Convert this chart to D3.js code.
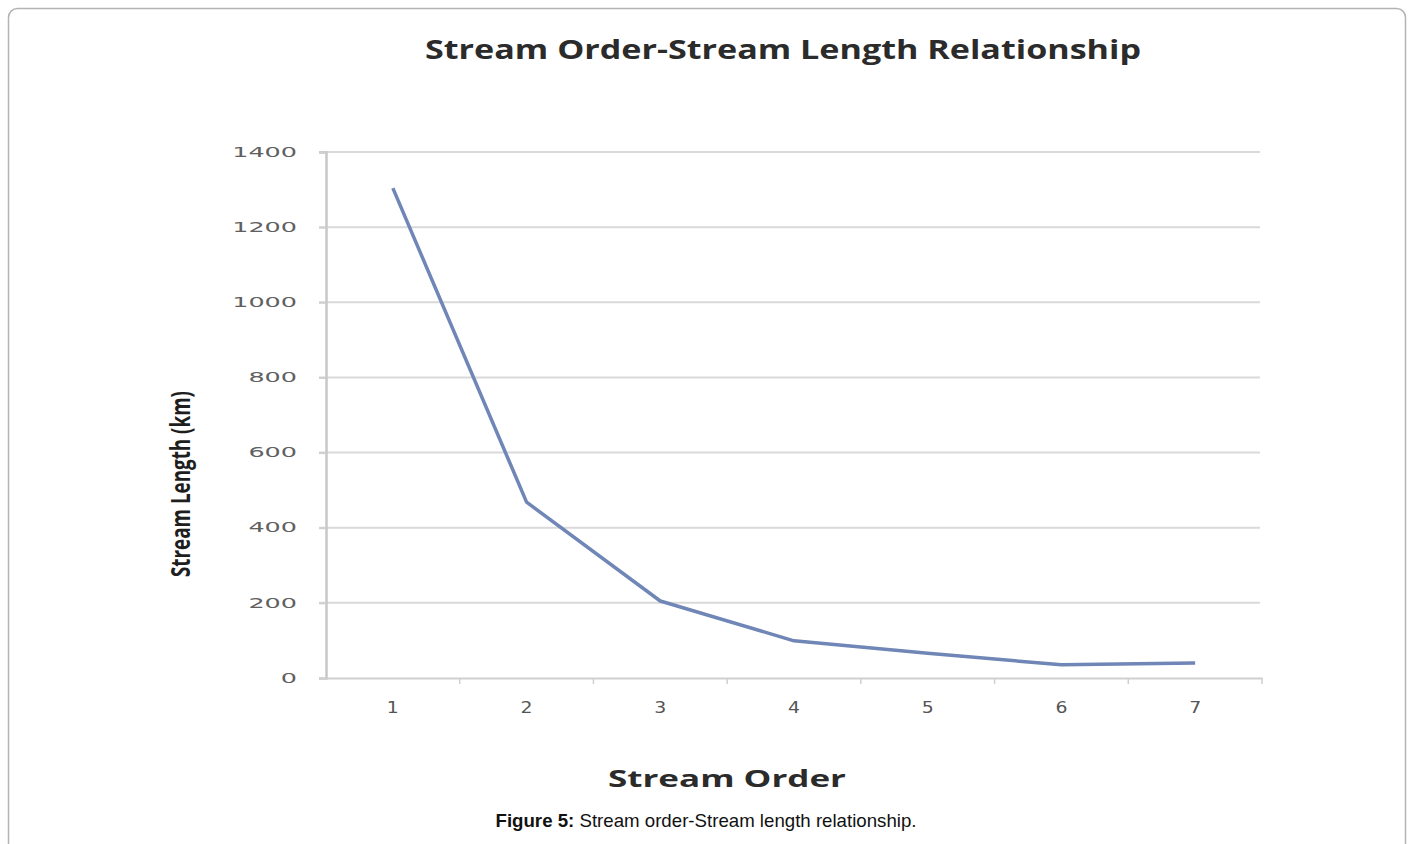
<!DOCTYPE html>
<html>
<head>
<meta charset="utf-8">
<script src="https://cdn.jsdelivr.net/npm/d3@7"></script>
<style>
  html, body { margin: 0; padding: 0; background: #fff; }
  svg { display: block; }
</style>
</head>
<body>
<script>
// ---- data ----
const categories = ["1", "2", "3", "4", "5", "6", "7"];
const streamLength = [1304, 468, 205, 99, 66, 35, 40];
const yTicks = [0, 200, 400, 600, 800, 1000, 1200, 1400];
const chartTitle = "Stream Order-Stream Length Relationship";
const xTitle = "Stream Order";
const yTitle = "Stream Length (km)";
const captionBold = "Figure 5:";
const captionText = " Stream order-Stream length relationship.";

const W = 1413, H = 844;
const svg = d3.select("body").append("svg").attr("width", W).attr("height", H);

// outer frame
svg.append("rect")
  .attr("x", 8.5).attr("y", 8.5).attr("width", 1397).attr("height", 860)
  .attr("rx", 9).attr("ry", 9)
  .attr("fill", "none").attr("stroke", "#b4b4b4").attr("stroke-width", 1.5);

const plot = { left: 326, right: 1262, top: 152, bottom: 678 };

const x = d3.scaleBand().domain(categories).range([plot.left, plot.right]).padding(0);
const y = d3.scaleLinear().domain([0, 1400]).range([plot.bottom, plot.top]);

// gridlines
svg.append("g").selectAll("line").data(yTicks.filter(d => d > 0)).join("line")
  .attr("x1", plot.left - 7).attr("x2", plot.right - 2)
  .attr("y1", d => y(d)).attr("y2", d => y(d))
  .attr("stroke", "#d9d9d9").attr("stroke-width", 2);

// y axis
const yAxis = svg.append("g").attr("transform", `translate(${plot.left},0)`)
  .call(d3.axisLeft(y).tickValues(yTicks).tickFormat(d3.format("d")).tickSize(7).tickPadding(22));
yAxis.select(".domain").attr("stroke", "#c8c8c8").attr("stroke-width", 2.5);
yAxis.selectAll(".tick line").attr("stroke", "#d0d0d0").attr("stroke-width", 2);
yAxis.selectAll(".tick text")
  .attr("font-family", "DejaVu Sans").attr("font-size", 14).attr("fill", "#606060")
  .attr("textLength", d => String(d).length * 16.2).attr("lengthAdjust", "spacingAndGlyphs")
  .attr("dy", "0.3em");

// x axis
const xAxis = svg.append("g").attr("transform", `translate(0,${plot.bottom})`)
  .call(d3.axisBottom(x).tickSize(0).tickPadding(24));
xAxis.select(".domain").attr("stroke", "#d0d0d0").attr("stroke-width", 2);
xAxis.selectAll(".tick text")
  .attr("font-family", "DejaVu Sans").attr("font-size", 15).attr("fill", "#555")
  .attr("textLength", 12).attr("lengthAdjust", "spacingAndGlyphs");
// boundary tick marks between categories
svg.append("g").selectAll("line")
  .data(categories.slice(1).concat(["end"]))
  .join("line")
  .attr("x1", d => d === "end" ? plot.right : x(d))
  .attr("x2", d => d === "end" ? plot.right : x(d))
  .attr("y1", plot.bottom).attr("y2", plot.bottom + 6)
  .attr("stroke", "#cfcfcf").attr("stroke-width", 1.5);

// line
const line = d3.line()
  .x((d, i) => x(categories[i]) + x.bandwidth() / 2)
  .y(d => y(d));
svg.append("path").datum(streamLength)
  .attr("d", line)
  .attr("fill", "none").attr("stroke", "#6f86b6").attr("stroke-width", 3.5)
  .attr("stroke-linejoin", "round");

// titles
svg.append("text")
  .attr("x", 783).attr("y", 59).attr("text-anchor", "middle")
  .attr("font-family", "Open Sans").attr("font-weight", "bold").attr("font-size", 27)
  .attr("fill", "#2b2b2b")
  .attr("textLength", 716).attr("lengthAdjust", "spacingAndGlyphs")
  .text(chartTitle);

svg.append("text")
  .attr("x", 727).attr("y", 787).attr("text-anchor", "middle")
  .attr("font-family", "Open Sans").attr("font-weight", "bold").attr("font-size", 24)
  .attr("fill", "#2b2b2b")
  .attr("textLength", 238).attr("lengthAdjust", "spacingAndGlyphs")
  .text(xTitle);

svg.append("text")
  .attr("transform", "translate(190,484) rotate(-90)")
  .attr("text-anchor", "middle")
  .attr("font-family", "Open Sans").attr("font-weight", "bold").attr("font-size", 26)
  .attr("fill", "#1e1e1e")
  .attr("textLength", 186).attr("lengthAdjust", "spacingAndGlyphs")
  .text(yTitle);

// caption
const cap = svg.append("text")
  .attr("x", 706).attr("y", 827).attr("text-anchor", "middle")
  .attr("font-family", "Liberation Sans").attr("font-size", 19).attr("fill", "#111")
  .attr("textLength", 421).attr("lengthAdjust", "spacingAndGlyphs");
cap.append("tspan").attr("font-weight", "bold").text(captionBold);
cap.append("tspan").text(captionText);
</script>
</body>
</html>
